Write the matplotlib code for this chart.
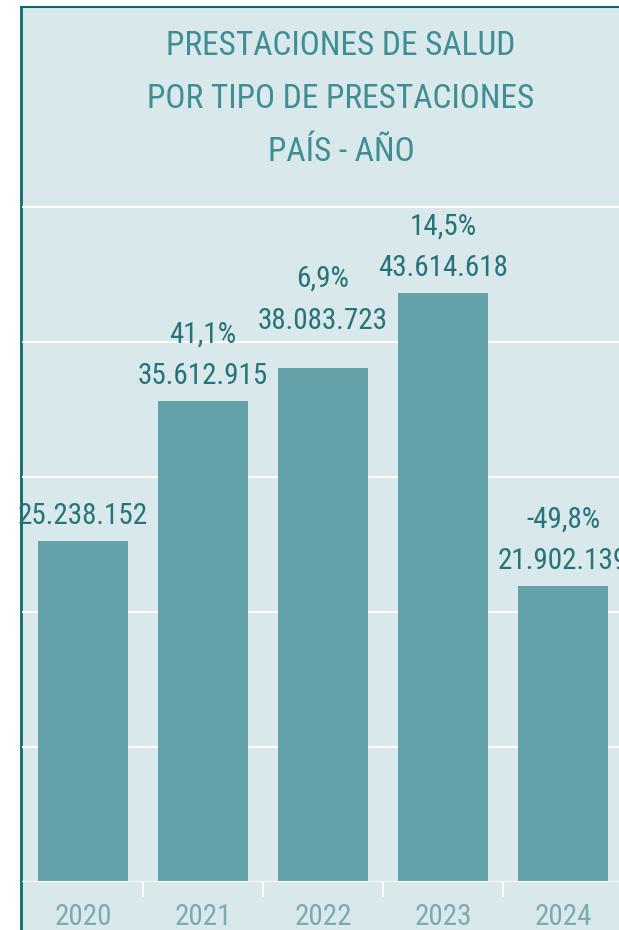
import matplotlib
matplotlib.use("Agg")
from matplotlib import pyplot as plt
from matplotlib.patches import Rectangle
from matplotlib.ticker import FixedLocator, MultipleLocator

# data
years = ["2020", "2021", "2022", "2023", "2024"]
values = [25238152, 35612915, 38083723, 43614618, 21902139]
value_labels = ["25.238.152", "35.612.915", "38.083.723", "43.614.618", "21.902.139"]
pct_labels = ["", "41,1%", "6,9%", "14,5%", "-49,8%"]

title_lines = ["PRESTACIONES DE SALUD", "POR TIPO DE PRESTACIONES", "PAÍS - AÑO"]

# extra lift (px) for labels that tableau pushed up
label_lift = [0, 0, 22, 0, 0]

bg = "#d9e8ea"
bar_col = "#64a2aa"
border_col = "#0f6b6b"
title_col = "#3f8d95"
label_col = "#26737a"
tick_col = "#7aabb1"

plt.rcParams['font.family'] = ['Roboto Condensed', 'Liberation Sans Narrow', 'DejaVu Sans']

W, H = 619, 930
PT = 72 / 100  # px -> points
fig = plt.figure(figsize=(W / 100, H / 100), dpi=100)
fig.patch.set_facecolor("white")

# panel background with left/top border
fig.add_artist(Rectangle((21 / W, 0), 1 - 21 / W, 1 - 8 / H, transform=fig.transFigure,
                         facecolor=bg, edgecolor="none", zorder=-5))
fig.add_artist(plt.Line2D([21 / W, 21 / W], [0, 1 - 7 / H], transform=fig.transFigure,
                          color=border_col, lw=2, zorder=-4))
fig.add_artist(plt.Line2D([21 / W, 1], [1 - 7.5 / H, 1 - 7.5 / H], transform=fig.transFigure,
                          color=border_col, lw=1.5, zorder=-4))

# title
for i, line in enumerate(title_lines):
    fig.text(341 / W, 1 - (46 + 53 * i) / H, line, ha="center", va="center",
             fontsize=24, color=title_col)

ax_left, ax_right = 22, 619
ax_bottom, ax_top = 882, 200
ax = fig.add_axes([ax_left / W, 1 - ax_bottom / H, (ax_right - ax_left) / W, (ax_bottom - ax_top) / H])
ax.set_facecolor("none")
ax.set_zorder(2)

x = list(range(len(years)))
ax.bar(x, values, width=0.75, color=bar_col, zorder=3)

px_per_unit = 135 / 10e6
xmin = -(83 - ax_left) / 120
ax.set_xlim(xmin, xmin + (ax_right - ax_left) / 120)
ax.set_ylim(0, (ax_bottom - ax_top) / px_per_unit)

ax.yaxis.set_major_locator(MultipleLocator(10e6))
ax.grid(axis="y", color="white", lw=1.5, zorder=1)
ax.set_yticklabels([])
ax.tick_params(axis="y", length=0)

for s in ax.spines.values():
    s.set_visible(False)
ax.axhline(0, color="white", lw=1.5, zorder=4)

ax.set_xticks(x)
ax.set_xticklabels(years, fontsize=21, color=tick_col)
ax.tick_params(axis="x", which="major", length=0, pad=15)
ax.xaxis.set_minor_locator(FixedLocator([i + 0.5 for i in x[:-1]]))
ax.tick_params(axis="x", which="minor", length=11, color="white", width=1.2)

for i, v in enumerate(values):
    dy = 25 + label_lift[i]
    ax.annotate(value_labels[i], (i, v), xytext=(0, dy * PT), textcoords="offset points",
                ha="center", va="center", fontsize=21, color=label_col, clip_on=False)
    if pct_labels[i]:
        ax.annotate(pct_labels[i], (i, v), xytext=(0, (dy + 42) * PT), textcoords="offset points",
                    ha="center", va="center", fontsize=21, color=label_col, clip_on=False)

fig.savefig("out.png", dpi=100)
